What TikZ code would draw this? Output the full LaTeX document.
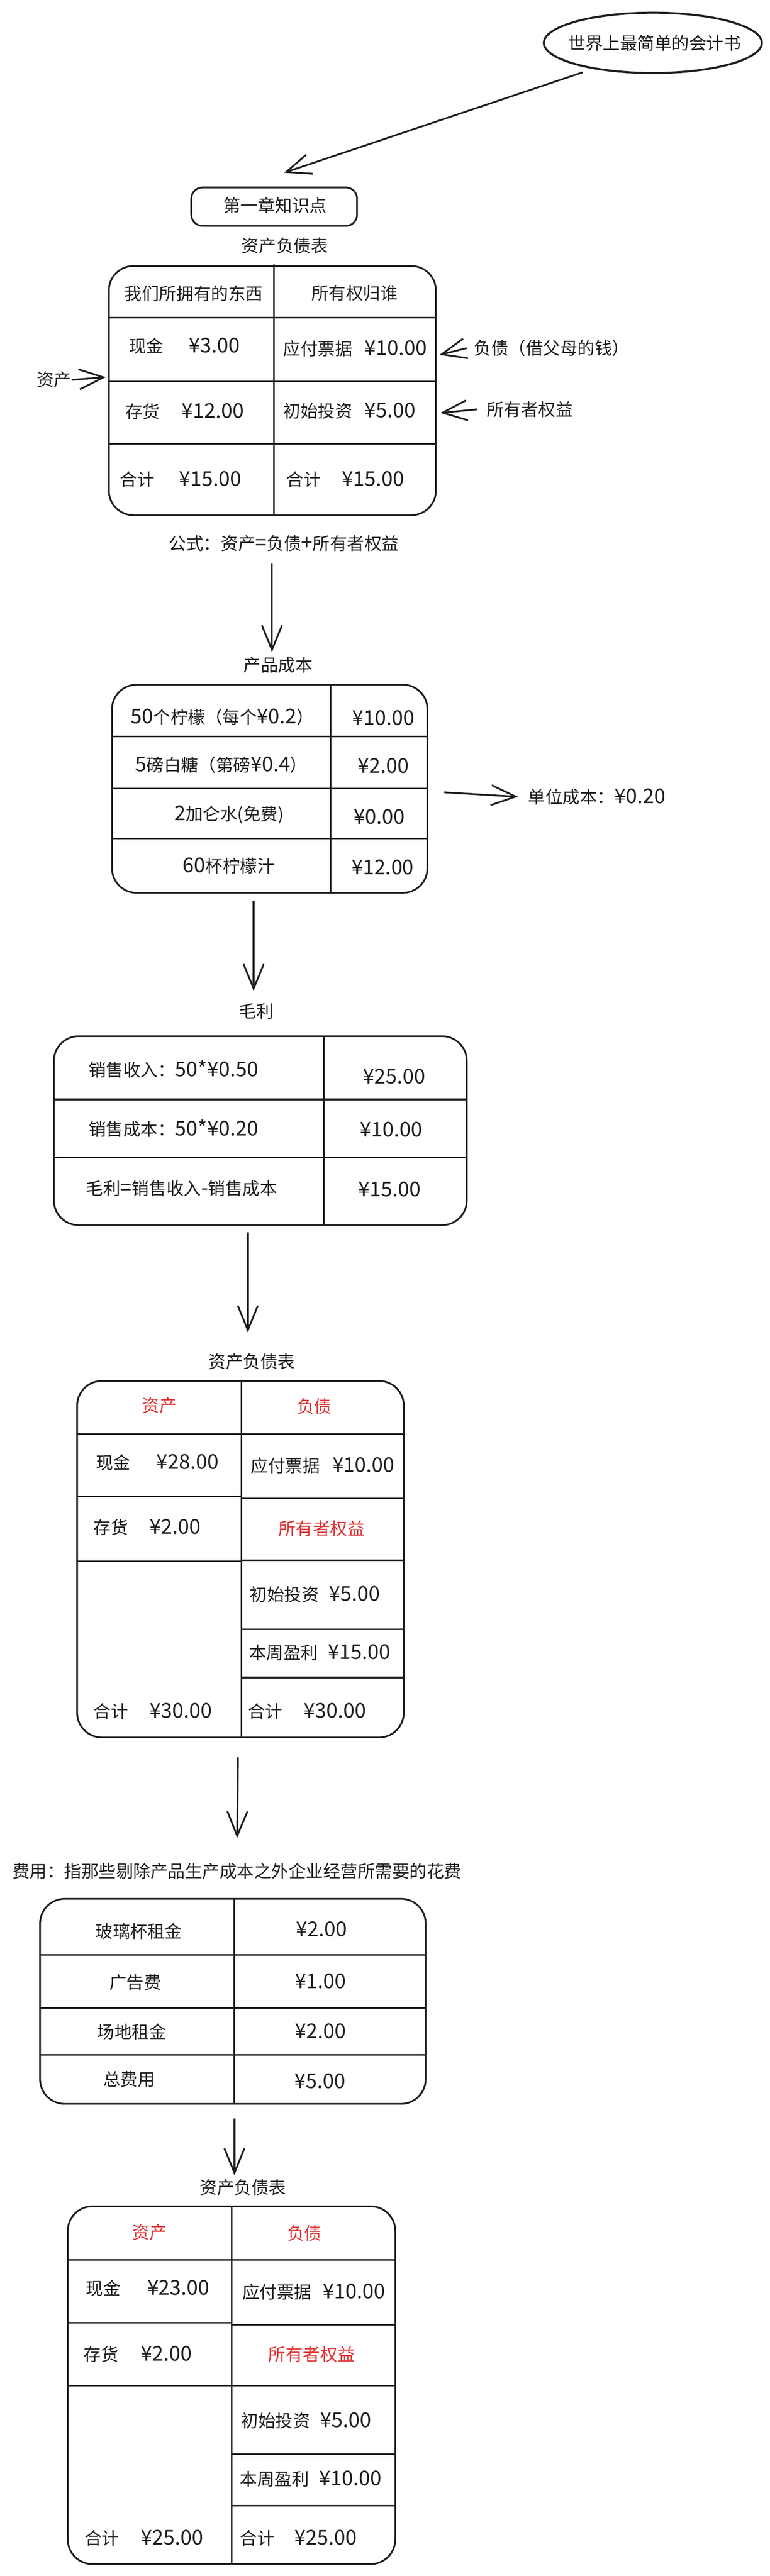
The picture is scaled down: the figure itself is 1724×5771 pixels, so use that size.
\documentclass[tikz,border=0pt]{standalone}
\usepackage{fontspec}
\setmainfont{Noto Sans CJK SC}
\usetikzlibrary{arrows.meta,shapes.geometric}
\definecolor{ink}{HTML}{1E1E1E}
\definecolor{redink}{HTML}{E03131}
\newcommand{\yv}[1]{{\fontsize{13}{15}\selectfont #1}}
\begin{document}
\begin{tikzpicture}[x=0.01cm,y=-0.01cm,
  txt/.style={inner sep=0pt, font=\fontsize{11}{13}\selectfont, text=ink},
  redtxt/.style={txt, text=redink},
  tbl/.style={draw=ink, line width=1.1pt, rounded corners=0.55cm, inner sep=0pt, outer sep=0pt},
  grid/.style={draw=ink, line width=1pt},
  arr/.style={draw=ink, line width=1.1pt, -{Straight Barb[length=0.55cm,width=0.45cm]}}]
\fill[white] (0,0) rectangle (1724,5771);
\useasboundingbox (0,0) rectangle (1724,5771);

% ---------- title ellipse and chapter box
\node[draw=ink, line width=1.3pt, ellipse, minimum width=4.88cm, minimum height=1.35cm, inner sep=0pt] (book) at (1462,96) {};
\node[txt] (booktxt) at (1466,97) {世界上最简单的会计书};
\node[tbl, rounded corners=0.25cm, minimum width=3.71cm, minimum height=0.86cm] (ch1) at (614,463) {};
\node[txt] (ch1txt) at (616,460) {第一章知识点};
\coordinate (a1s) at (1305,162);
\coordinate (a1e) at (636,387);
\draw[arr] (a1s) -- (a1e);

% ---------- table 1
\node[txt] (ttl1) at (638,550) {资产负债表};
\node[tbl, minimum width=7.32cm, minimum height=5.58cm] (t1) at (610,875) {};
\draw[grid] (614,592) -- (614,1154);
\draw[grid] (244,712) -- (976,712);
\draw[grid] (244,855) -- (976,855);
\draw[grid] (244,994) -- (976,994);
\node[txt] (t1a) at (434,658) {我们所拥有的东西};
\node[txt] (t1b) at (794,656) {所有权归谁};
\node[txt, anchor=west] (t1c) at (288,775) {现金\hspace{0.57cm}\yv{¥3.00}};
\node[txt, anchor=west] (t1d) at (634,781) {应付票据\hspace{0.27cm}\yv{¥10.00}};
\node[txt, anchor=west] (t1e) at (280,922) {存货\hspace{0.49cm}\yv{¥12.00}};
\node[txt, anchor=west] (t1f) at (634,921) {初始投资\hspace{0.27cm}\yv{¥5.00}};
\node[txt, anchor=west] (t1g) at (268,1074) {合计\hspace{0.55cm}\yv{¥15.00}};
\node[txt, anchor=west] (t1h) at (641,1074) {合计\hspace{0.47cm}\yv{¥15.00}};
\node[txt] (lblasset) at (121,851) {资产};
\coordinate (a2e) at (237,845);
\draw[arr] (lblasset.east) -- (a2e);
\node[txt, anchor=west] (lblliab) at (1061,780) {负债（借父母的钱）};
\coordinate (a3e) at (984,795);
\draw[arr] (lblliab.west) ++(-0.16cm,0) coordinate (a3s) -- (a3e);
\node[txt, anchor=west] (lbleq) at (1089,917) {所有者权益};
\coordinate (a4e) at (986,925);
\draw[arr] (lbleq.west) ++(-0.2cm,0) coordinate (a4s) -- (a4e);
\node[txt] (formula) at (636,1218) {公式：资产\yv{=}负债\yv{+}所有者权益};

% ---------- table 2
\coordinate (a5s) at (609,1262);
\coordinate (a5e) at (609,1461);
\draw[arr] (a5s) -- (a5e);
\node[txt] (ttl2) at (623,1490) {产品成本};
\node[tbl, minimum width=7.06cm, minimum height=4.66cm] (t2) at (604,1767) {};
\draw[grid] (740,1534) -- (740,2000);
\draw[grid] (251,1650) -- (957,1650);
\draw[grid] (251,1766) -- (957,1766);
\draw[grid] (251,1878) -- (957,1878);
\node[txt] (t2a) at (498,1606) {\yv{50}个柠檬（每个\yv{¥0.2}）};
\node[txt] (t2b) at (859,1608) {\yv{¥10.00}};
\node[txt] (t2c) at (496,1714) {\yv{5}磅白糖（第磅\yv{¥0.4}）};
\node[txt] (t2d) at (859,1716) {\yv{¥2.00}};
\node[txt] (t2e) at (513,1825) {\yv{2}加仑水(免费)};
\node[txt] (t2f) at (850,1830) {\yv{¥0.00}};
\node[txt] (t2g) at (512,1940) {\yv{60}杯柠檬汁};
\node[txt] (t2h) at (857,1943) {\yv{¥12.00}};
\coordinate (a6s) at (995,1775);
\node[txt, anchor=west] (unitcost) at (1182,1785) {单位成本：\yv{¥0.20}};
\draw[arr] (a6s) -- (unitcost.west -| 1160,0);

% ---------- table 3
\coordinate (a7s) at (568,2017);
\coordinate (a7e) at (568,2220);
\draw[arr] (a7s) -- (a7e);
\node[txt] (ttl3) at (574,2266) {毛利};
\node[tbl, minimum width=9.24cm, minimum height=4.23cm] (t3) at (583,2533) {};
\draw[grid] (726,2322) -- (726,2745);
\draw[grid] (121,2463) -- (1045,2463);
\draw[grid] (121,2593) -- (1045,2593);
\node[txt, anchor=west] (t3a) at (198,2395) {销售收入：\yv{50*¥0.50}};
\node[txt] (t3b) at (883,2411) {\yv{¥25.00}};
\node[txt, anchor=west] (t3c) at (198,2528) {销售成本：\yv{50*¥0.20}};
\node[txt] (t3d) at (876,2530) {\yv{¥10.00}};
\node[txt, anchor=west] (t3e) at (192,2663) {毛利\yv{=}销售收入\yv{-}销售成本};
\node[txt] (t3f) at (873,2664) {\yv{¥15.00}};

% ---------- table 4
\coordinate (a8s) at (555,2761);
\coordinate (a8e) at (555,2985);
\draw[arr] (a8s) -- (a8e);
\node[txt] (ttl4) at (564,3050) {资产负债表};
\node[tbl, minimum width=7.31cm, minimum height=7.98cm] (t4) at (538.5,3493) {};
\draw[grid] (541,3094) -- (541,3892);
\draw[grid] (173,3213) -- (904,3213);
\draw[grid] (173,3352) -- (541,3352);
\draw[grid] (173,3498) -- (541,3498);
\draw[grid] (541,3357) -- (904,3357);
\draw[grid] (541,3495) -- (904,3495);
\draw[grid] (541,3650) -- (904,3650);
\draw[grid] (541,3758) -- (904,3758);
\node[redtxt] (t4a) at (357,3149) {资产};
\node[redtxt] (t4b) at (704,3151) {负债};
\node[txt, anchor=west] (t4c) at (214,3276) {现金\hspace{0.58cm}\yv{¥28.00}};
\node[txt, anchor=west] (t4d) at (561,3283) {应付票据\hspace{0.28cm}\yv{¥10.00}};
\node[txt, anchor=west] (t4e) at (209,3422) {存货\hspace{0.48cm}\yv{¥2.00}};
\node[redtxt] (t4f) at (720,3424) {所有者权益};
\node[txt, anchor=west] (t4g) at (559,3572) {初始投资\hspace{0.23cm}\yv{¥5.00}};
\node[txt, anchor=west] (t4h) at (557,3702) {本周盈利\hspace{0.22cm}\yv{¥15.00}};
\node[txt, anchor=west] (t4i) at (209,3834) {合计\hspace{0.48cm}\yv{¥30.00}};
\node[txt, anchor=west] (t4j) at (555,3834) {合计\hspace{0.47cm}\yv{¥30.00}};

% ---------- table 5
\coordinate (a9s) at (533,3937);
\coordinate (a9e) at (531,4118);
\draw[arr] (a9s) -- (a9e);
\node[txt, anchor=west] (expdef) at (27,4192) {费用：指那些剔除产品生产成本之外企业经营所需要的花费};
\node[tbl, minimum width=8.63cm, minimum height=4.59cm] (t5) at (521.5,4483.5) {};
\draw[grid] (525,4254) -- (525,4713);
\draw[grid] (90,4380) -- (953,4380);
\draw[grid] (90,4499) -- (953,4499);
\draw[grid] (90,4604) -- (953,4604);
\node[txt] (t5a) at (311,4327) {玻璃杯租金};
\node[txt] (t5b) at (720,4322) {\yv{¥2.00}};
\node[txt] (t5c) at (303,4441) {广告费};
\node[txt] (t5d) at (718,4438) {\yv{¥1.00}};
\node[txt] (t5e) at (295,4552) {场地租金};
\node[txt] (t5f) at (718,4550) {\yv{¥2.00}};
\node[txt] (t5g) at (289,4658) {总费用};
\node[txt] (t5h) at (717,4662) {\yv{¥5.00}};

% ---------- table 6
\coordinate (a10s) at (525,4746);
\coordinate (a10e) at (525,4873);
\draw[arr] (a10s) -- (a10e);
\node[txt] (ttl6) at (544,4900) {资产负债表};
\node[tbl, minimum width=7.33cm, minimum height=8.01cm] (t6) at (518.5,5343.5) {};
\draw[grid] (519,4943) -- (519,5744);
\draw[grid] (152,5063) -- (885,5063);
\draw[grid] (152,5204) -- (519,5204);
\draw[grid] (152,5344) -- (519,5344);
\draw[grid] (519,5208) -- (885,5208);
\draw[grid] (519,5344) -- (885,5344);
\draw[grid] (519,5498) -- (885,5498);
\draw[grid] (519,5613) -- (885,5613);
\node[redtxt] (t6a) at (335,5001) {资产};
\node[redtxt] (t6b) at (682,5003) {负债};
\node[txt, anchor=west] (t6c) at (192,5126) {现金\hspace{0.60cm}\yv{¥23.00}};
\node[txt, anchor=west] (t6d) at (542,5135) {应付票据\hspace{0.26cm}\yv{¥10.00}};
\node[txt, anchor=west] (t6e) at (187,5274) {存货\hspace{0.51cm}\yv{¥2.00}};
\node[redtxt] (t6f) at (698,5274) {所有者权益};
\node[txt, anchor=west] (t6g) at (539,5423) {初始投资\hspace{0.23cm}\yv{¥5.00}};
\node[txt, anchor=west] (t6h) at (537,5553) {本周盈利\hspace{0.23cm}\yv{¥10.00}};
\node[txt, anchor=west] (t6i) at (189,5686) {合计\hspace{0.49cm}\yv{¥25.00}};
\node[txt, anchor=west] (t6j) at (537,5686) {合计\hspace{0.45cm}\yv{¥25.00}};
\end{tikzpicture}
\end{document}
